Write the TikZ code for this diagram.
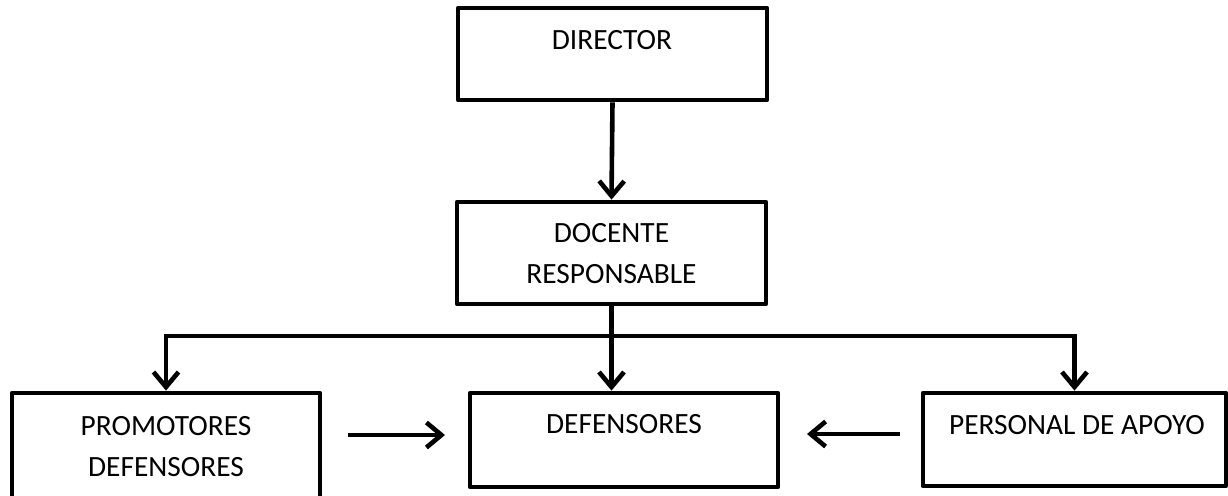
\documentclass[tikz,border=0pt]{standalone}
\usepackage{fontspec}
\setmainfont{Carlito}
\usetikzlibrary{arrows.meta}

\tikzset{
  orgbox/.style={draw, line width=2.4pt, inner sep=0pt, line join=round},
  orgtext/.style={font=\fontsize{14.7}{20.5}\selectfont, align=center, inner sep=0pt},
  link/.style={line width=2.3pt, line join=miter, -{Straight Barb[length=7.5pt,width=12.5pt]}},
}

\begin{document}
\begin{tikzpicture}[x=0.5pt, y=-0.5pt]
  \clip (0,0) rectangle (1228,495);

  % Boxes
  \node[orgbox, minimum width=154.5pt, minimum height=46pt] (director) at (612.5,54) {};
  \node[orgbox, minimum width=154.5pt, minimum height=51pt] (docente) at (611.5,253) {};
  \node[orgbox, minimum width=154pt, minimum height=58.5pt] (promotores) at (166,451.5) {};
  \node[orgbox, minimum width=154pt, minimum height=47pt] (defensores) at (624,440) {};
  \node[orgbox, minimum width=151.5pt, minimum height=46.5pt] (apoyo) at (1074.5,439.5) {};

  % Texts (placed near the top of each box)
  \node[orgtext] (director-t) at (612,40) {DIRECTOR};
  \node[orgtext] (docente-t) at (611.5,253.5) {DOCENTE\\RESPONSABLE};
  \node[orgtext] (promotores-t) at (166,446.5) {PROMOTORES\\DEFENSORES};
  \node[orgtext] (defensores-t) at (624,424.5) {DEFENSORES};
  \node[orgtext] (apoyo-t) at (1077,425) {PERSONAL DE APOYO};

  % Vertical links
  \draw[link] (director.south) -- (docente.north);
  \draw[link] (docente.south) -- (docente.south |- defensores.north);

  % Branch line
  \coordinate (bus) at (611.5,336);
  \draw[link] (bus) -| (promotores.north);
  \draw[link] (bus) -| (apoyo.north);

  % Side arrows
  \coordinate (prom-a) at (348,435);
  \coordinate (prom-b) at (445,435);
  \coordinate (apo-a) at (900,434);
  \coordinate (apo-b) at (807,434);
  \draw[link] (prom-a) -- (prom-b);
  \draw[link] (apo-a) -- (apo-b);
\end{tikzpicture}
\end{document}
